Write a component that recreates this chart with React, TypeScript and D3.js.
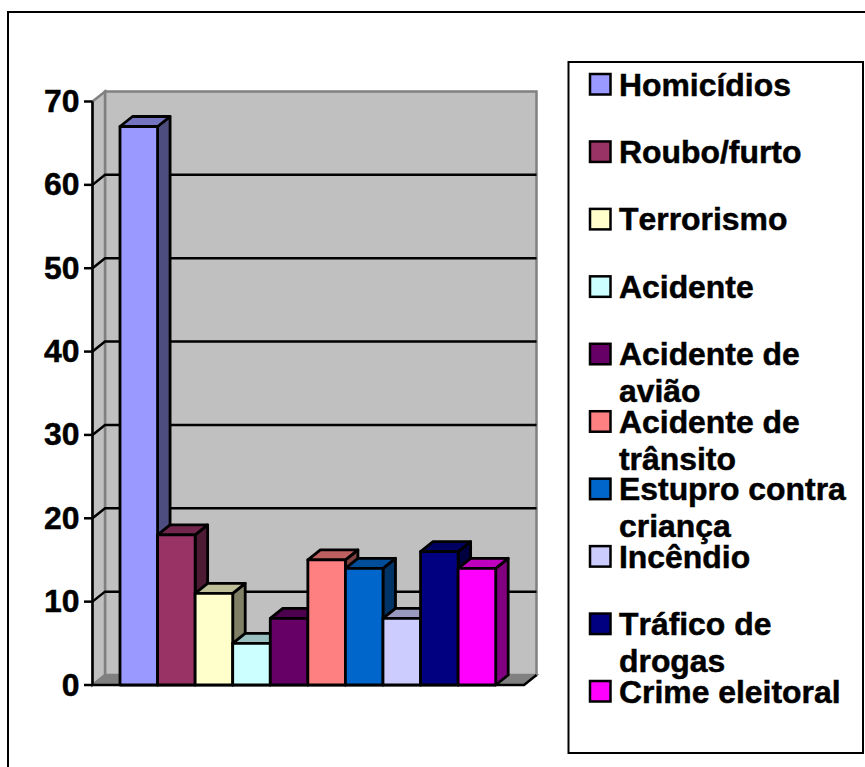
import React from "react";
import * as d3 from "d3";

const categories = ["Homicídios", "Roubo/furto", "Terrorismo", "Acidente", "Acidente de avião", "Acidente de trânsito", "Estupro contra criança", "Incêndio", "Tráfico de drogas", "Crime eleitoral"];
const values = [67, 18, 11, 5, 8, 15, 14, 8, 16, 14];
const colors = ["#9999FF", "#993366", "#FFFFCC", "#CCFFFF", "#660066", "#FF8080", "#0066CC", "#CCCCFF", "#000080", "#FF00FF"];
const legendLines = [["Homicídios"], ["Roubo/furto"], ["Terrorismo"], ["Acidente"], ["Acidente de", "avião"], ["Acidente de", "trânsito"], ["Estupro contra", "criança"], ["Incêndio"], ["Tráfico de", "drogas"], ["Crime eleitoral"]];
const yTicks = [0, 10, 20, 30, 40, 50, 60, 70];

const W = 865, H = 767;
const DX = 12.5, DY = -10;
const FONT = "'Liberation Sans', Arial, sans-serif";
const FS = 31.9;
const x = d3.scaleBand<string>().domain(categories).range([120, 495.7]).padding(0);
const y = d3.scaleLinear().domain([0, 70]).range([685, 101.5]);
const legendY = d3.scaleLinear().domain([0, 9]).range([74, 681]);
const pts = (p: number[][]) => p.map((a) => a.join(",")).join(" ");
const shade = (c: string, k: number) => {
  const r = d3.rgb(c);
  return d3.rgb(r.r * k, r.g * k, r.b * k).formatHex();
};

export default function App() {
  const x0 = 92.5, xBack = x0 + DX, xRight = 536.5, y0 = y(0), yTop = y(70);
  return (
    <svg width={W} height={H} style={{ position: "absolute", left: 0, top: 0, display: "block", background: "#fff", fontKerning: "none" }} fontFamily={FONT}>
      <path d={`M8,${H} V12 H${W}`} fill="none" stroke="#000" strokeWidth={2} />
      <polygon points={pts([[xBack, yTop + DY], [xRight, yTop + DY], [xRight, y0 + DY], [xBack, y0 + DY]])} fill="#c0c0c0" stroke="#808080" strokeWidth={2.5} />
      <polygon points={pts([[x0, yTop], [xBack, yTop + DY], [xBack, y0 + DY], [x0, y0]])} fill="#c0c0c0" stroke="#808080" strokeWidth={2.5} />
      <polygon points={pts([[x0, y0], [xBack, y0 + DY], [xRight, y0 + DY], [xRight - DX, y0]])} fill="#808080" stroke="#808080" strokeWidth={2} />
      {yTicks.filter((t) => t > 0 && t < 70).map((t) => (
        <path key={t} d={`M${x0},${y(t)} L${xBack},${y(t) + DY} H${xRight}`} fill="none" stroke="#000" strokeWidth={2.5} />
      ))}
      <path d={`M${x0},${yTop} V${y0} H${xRight - DX} L${xRight},${y0 + DY}`} fill="none" stroke="#000" strokeWidth={2.5} />
      {yTicks.map((t) => (
        <g key={t}>
          <line x1={84} x2={x0} y1={y(t)} y2={y(t)} stroke="#000" strokeWidth={2.5} />
          <text x={79.5} y={y(t) + 10.5} textAnchor="end" fontSize={FS} fontWeight="bold" fill="#000" stroke="#000" strokeWidth={0.5}>{t}</text>
        </g>
      ))}
      {categories.map((c, i) => {
        const l = x(c)!, r = l + x.bandwidth(), t = y(values[i]), b = y(0);
        return (
          <g key={c} stroke="#000" strokeWidth={2.8} strokeLinejoin="round">
            <polygon points={pts([[r, t], [r + DX, t + DY], [r + DX, b + DY], [r, b]])} fill={shade(colors[i], 0.5)} />
            <polygon points={pts([[l, t], [l + DX, t + DY], [r + DX, t + DY], [r, t]])} fill={shade(colors[i], 0.75)} />
            <rect x={l} y={t} width={x.bandwidth()} height={b - t} fill={colors[i]} />
          </g>
        );
      })}
      <rect x={568.5} y={62} width={294.5} height={691} fill="#fff" stroke="#000" strokeWidth={2} />
      {categories.map((c, i) => (
        <g key={c}>
          <rect x={590} y={legendY(i)} width={20.5} height={20.5} fill={colors[i]} stroke="#000" strokeWidth={2.5} />
          {legendLines[i].map((line, j) => (
            <text key={j} x={619} y={legendY(i) + 21.5 + j * 37} fontSize={FS} fontWeight="bold" fill="#000" stroke="#000" strokeWidth={0.5}>{line}</text>
          ))}
        </g>
      ))}
    </svg>
  );
}
